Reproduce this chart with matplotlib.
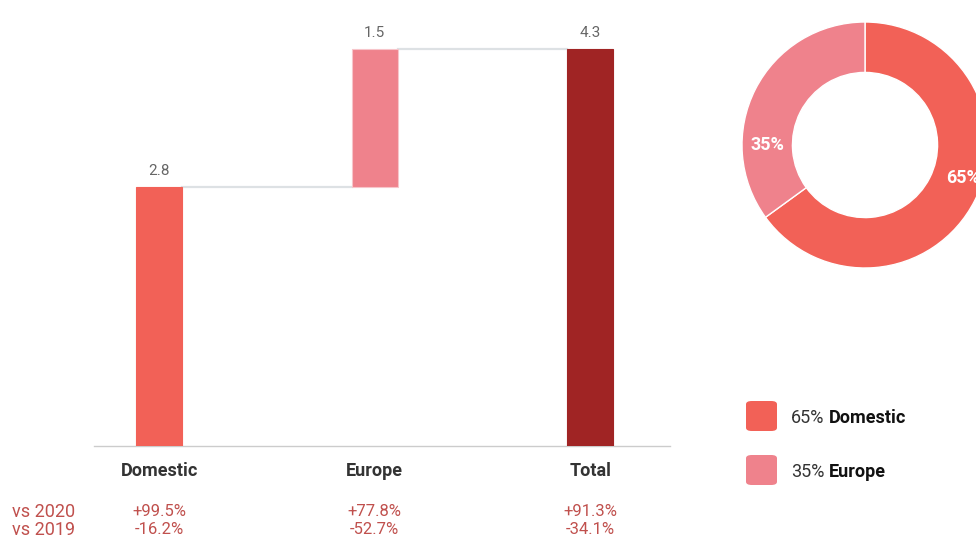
import matplotlib
matplotlib.use('Agg')
import matplotlib.pyplot as plt
from matplotlib.patches import FancyBboxPatch
from matplotlib.transforms import blended_transform_factory

plt.rcParams['font.family'] = ['Roboto', 'DejaVu Sans']

# waterfall data
categories = ['Domestic', 'Europe', 'Total']
values = [2.8, 1.5, 4.3]
vs_2020 = ['+99.5%', '+77.8%', '+91.3%']
vs_2019 = ['-16.2%', '-52.7%', '-34.1%']

# share of total
share_labels = ['Domestic', 'Europe']
share_pct = [65, 35]

c_dom = '#f26157'
c_eur = '#ef828c'
c_tot = '#a02424'
bar_colors = [c_dom, c_eur, c_tot]
row_color = '#c0504d'

fig = plt.figure(figsize=(9.76, 5.38), dpi=100)

ax = fig.add_axes([94 / 976, 92 / 538, 576 / 976, 446 / 538])
x = [0, 1, 2]
bottoms = [0, values[0], 0]
w = 0.213
for i in range(3):
    ec = '#f7c5ca' if i == 1 else bar_colors[i]
    ax.bar(x[i], values[i], width=w, bottom=bottoms[i], color=bar_colors[i],
           edgecolor=ec, linewidth=0.8, zorder=3)
    top = bottoms[i] + values[i]
    ax.text(x[i], top + 0.1, '{:.1f}'.format(values[i]), ha='center', va='bottom',
            fontsize=11, color='#666666')

# connector lines between bar tops
ax.plot([x[0] + w / 2, x[1] - w / 2], [values[0], values[0]], color='#dde1e4', lw=1.6, zorder=2)
ax.plot([x[1] + w / 2, x[2] - w / 2], [values[0] + values[1]] * 2, color='#dde1e4', lw=1.6, zorder=2)

ax.set_xlim(-0.302, 2.37)
ax.set_ylim(0, 4.83)
for s in ['top', 'right', 'left']:
    ax.spines[s].set_visible(False)
ax.spines['bottom'].set_color('#cccccc')
ax.spines['bottom'].set_linewidth(1)
ax.set_yticks([])
ax.set_xticks([])

tr = blended_transform_factory(ax.transData, fig.transFigure)
for i, c in enumerate(categories):
    ax.text(x[i], 1 - 471 / 538, c, transform=tr, ha='center', va='center',
            fontsize=13, fontweight='bold', color='#333333')
    ax.text(x[i], 1 - 512 / 538, vs_2020[i], transform=tr, ha='center', va='center',
            fontsize=12, color=row_color)
    ax.text(x[i], 1 - 530 / 538, vs_2019[i], transform=tr, ha='center', va='center',
            fontsize=12, color=row_color)
fig.text(12 / 976, 1 - 512 / 538, 'vs 2020', ha='left', va='center', fontsize=13,
         color=row_color)
fig.text(12 / 976, 1 - 530 / 538, 'vs 2019', ha='left', va='center', fontsize=13,
         color=row_color)

# donut
ax2 = fig.add_axes([742 / 976, 1 - 268 / 538, 246 / 976, 246 / 538])
ax2.pie(share_pct, colors=[c_dom, c_eur], startangle=90, counterclock=False, radius=1,
        wedgeprops=dict(width=0.41, edgecolor='white', linewidth=1))
ax2.set_xlim(-1, 1)
ax2.set_ylim(-1, 1)
ax2.set_aspect('equal')
ax2.axis('off')
ax2.text(0.80, -0.27, '{}%'.format(share_pct[0]), ha='center', va='center', fontsize=13,
         fontweight='bold', color='white')
ax2.text(-0.79, 0.0, '{}%'.format(share_pct[1]), ha='center', va='center', fontsize=13,
         fontweight='bold', color='white')

# legend
for j, (lab, pct, col) in enumerate(zip(share_labels, share_pct, [c_dom, c_eur])):
    yc = 416 + j * 54
    box = FancyBboxPatch((746 / 976, 1 - (yc + 15) / 538), 31 / 976, 30 / 538,
                         boxstyle='round,pad=0,rounding_size=0.006',
                         transform=fig.transFigure, facecolor=col, edgecolor='none')
    fig.add_artist(box)
    t1 = fig.text(791 / 976, 1 - (yc + 2) / 538, '{}%'.format(pct), ha='left', va='center',
                  fontsize=13, color='#333333')
    fig.add_artist(plt.Annotation(lab, xy=(1, 0.5), xycoords=t1, xytext=(3, 0),
                                  textcoords='offset points', ha='left', va='center',
                                  fontsize=13, fontweight='bold', color='#111111'))

fig.savefig('out.png', dpi=100)
